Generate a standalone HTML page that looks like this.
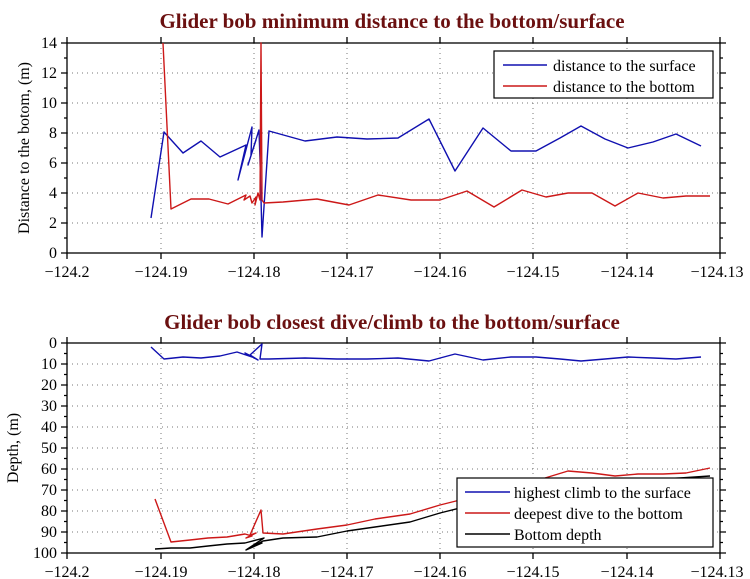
<!DOCTYPE html>
<html><head><meta charset="utf-8"><style>body{margin:0;background:#fff}svg{display:block}</style></head>
<body>
<svg width="750" height="579" viewBox="0 0 750 579" xmlns="http://www.w3.org/2000/svg" font-family="Liberation Serif, serif">
<rect width="750" height="579" fill="#fff"/>
<text x="392" y="28" text-anchor="middle" font-size="21" font-weight="bold" fill="#6b1010">Glider bob minimum distance to the bottom/surface</text>
<text x="392" y="329" text-anchor="middle" font-size="21" font-weight="bold" fill="#6b1010">Glider bob closest dive/climb to the bottom/surface</text>
<g stroke="#777" stroke-width="1" stroke-dasharray="1,4">
<path d="M161 43V253M254 43V253M347 43V253M440 43V253M533 43V253M627 43V253M67 73H720M67 103H720M67 133H720M67 163H720M67 193H720M67 223H720"/>
<path d="M161 343V553M254 343V553M347 343V553M440 343V553M533 343V553M627 343V553M67 364H720M67 385H720M67 406H720M67 427H720M67 448H720M67 469H720M67 490H720M67 511H720M67 532H720"/>
</g>
<g stroke="#000" stroke-width="1.3" fill="none">
<rect x="67" y="43" width="653" height="210"/>
<rect x="67" y="343" width="653" height="210"/>
<path d="M67 253v6M161 253v6M254 253v6M347 253v6M440 253v6M533 253v6M627 253v6M720 253v6M67 43v-6M161 43v-6M254 43v-6M347 43v-6M440 43v-6M533 43v-6M627 43v-6M720 43v-6"/>
<path d="M67 553v6M161 553v6M254 553v6M347 553v6M440 553v6M533 553v6M627 553v6M720 553v6M67 343v-6M161 343v-6M254 343v-6M347 343v-6M440 343v-6M533 343v-6M627 343v-6M720 343v-6"/>
<path d="M67 43h-6M67 73h-6M67 103h-6M67 133h-6M67 163h-6M67 193h-6M67 223h-6M67 253h-6M720 43h6M720 73h6M720 103h6M720 133h6M720 163h6M720 193h6M720 223h6M720 253h6
M67 58h-3M67 88h-3M67 118h-3M67 148h-3M67 178h-3M67 208h-3M67 238h-3M720 58h3M720 88h3M720 118h3M720 148h3M720 178h3M720 208h3M720 238h3"/>
<path d="M67 343h-6M67 364h-6M67 385h-6M67 406h-6M67 427h-6M67 448h-6M67 469h-6M67 490h-6M67 511h-6M67 532h-6M67 553h-6M720 343h6M720 364h6M720 385h6M720 406h6M720 427h6M720 448h6M720 469h6M720 490h6M720 511h6M720 532h6M720 553h6
M67 353.5h-3M67 374.5h-3M67 395.5h-3M67 416.5h-3M67 437.5h-3M67 458.5h-3M67 479.5h-3M67 500.5h-3M67 521.5h-3M67 542.5h-3M720 353.5h3M720 374.5h3M720 395.5h3M720 416.5h3M720 437.5h3M720 458.5h3M720 479.5h3M720 500.5h3M720 521.5h3M720 542.5h3"/>
</g>
<g font-size="16" text-anchor="end">
<text x="57" y="48">14</text><text x="57" y="78">12</text><text x="57" y="108">10</text><text x="57" y="138">8</text><text x="57" y="168">6</text><text x="57" y="198">4</text><text x="57" y="228">2</text><text x="57" y="258">0</text>
<text x="57" y="348">0</text><text x="57" y="369">10</text><text x="57" y="390">20</text><text x="57" y="411">30</text><text x="57" y="432">40</text><text x="57" y="453">50</text><text x="57" y="474">60</text><text x="57" y="495">70</text><text x="57" y="516">80</text><text x="57" y="537">90</text><text x="57" y="558">100</text>
</g>
<g font-size="16" text-anchor="middle">
<text x="67" y="277">−124.2</text><text x="161" y="277">−124.19</text><text x="254" y="277">−124.18</text><text x="347" y="277">−124.17</text><text x="440" y="277">−124.16</text><text x="533" y="277">−124.15</text><text x="627" y="277">−124.14</text><text x="717" y="277">−124.13</text>
<text x="67" y="577">−124.2</text><text x="161" y="577">−124.19</text><text x="254" y="577">−124.18</text><text x="347" y="577">−124.17</text><text x="440" y="577">−124.16</text><text x="533" y="577">−124.15</text><text x="627" y="577">−124.14</text><text x="717" y="577">−124.13</text>
</g>
<text transform="translate(29,148) rotate(-90)" font-size="16" text-anchor="middle">Distance to the botom, (m)</text>
<text transform="translate(18,448) rotate(-90)" font-size="16" text-anchor="middle">Depth, (m)</text>
<g fill="none" stroke-width="1.4" stroke-linejoin="round">
<polyline stroke="#1010b0" points="151,218 164,132 183,153 201,141 220,157 246,145 238,180 252,127 251,155 256,140 248,165 259,130 260,160 262,237 269,131 305,141 337,137 367,139 398,138 429,119 455,171 483,128 511,151 536,151 560,138 581,126 605,139 628,148 653,142 676,134 701,146"/>
<polyline stroke="#cc1818" points="163,43 171,209 191,199 209,199 228,204 246,195 244,200 250,196 252,203 256,197 255,205 258,193 260,200 261,43 262,200 264,203 283,202 317,199 349,205 378,195 411,200 440,200 467,191 494,207 522,190 546,197 568,193 592,193 615,206 638,193 663,198 686,196 710,196"/>
<polyline stroke="#1010b0" points="151,347 164,359 183,357 201,358 220,356 237,352 255,358 245,353 258,360 250,355 262,344 260,359 269,359 305,358 337,359 367,359 398,358 429,361 455,354 483,360 511,357 536,357 560,359 581,361 605,359 628,357 653,358 676,359 701,357"/>
<polyline stroke="#cc1818" points="155,499 171,542 190,540 208,538 227,537 245,534 252,536 246,538 256,533 250,535 261,510 263,533 283,534 317,529 347,525 375,519 410,514 440,505 480,495 520,485 545,478 568,471 592,473 615,476 638,474 663,474 686,473 710,468"/>
<polyline stroke="#000" points="155,549 171,548 190,548 208,546 227,544 245,543 264,538 246,550 262,543 250,548 263,541 283,538 317,537 347,531 375,527 410,522 440,513 480,503 520,493 560,485 600,482 640,480 680,478 710,476"/>
</g>
<rect x="494" y="51" width="219" height="47" fill="#fff" stroke="#000" stroke-width="1.2"/>
<path d="M503 65h44" stroke="#1010b0" stroke-width="1.4"/><path d="M503 86h44" stroke="#cc1818" stroke-width="1.4"/>
<text x="553" y="71" font-size="16">distance to the surface</text>
<text x="553" y="92" font-size="16">distance to the bottom</text>
<rect x="457" y="478" width="256" height="69" fill="#fff" stroke="#000" stroke-width="1.2"/>
<path d="M465 492h45" stroke="#1010b0" stroke-width="1.4"/><path d="M465 513h45" stroke="#cc1818" stroke-width="1.4"/><path d="M465 534h45" stroke="#000" stroke-width="1.4"/>
<text x="514" y="498" font-size="16">highest climb to the surface</text>
<text x="514" y="519" font-size="16">deepest dive to the bottom</text>
<text x="514" y="540" font-size="16">Bottom depth</text>
</svg>
</body></html>
